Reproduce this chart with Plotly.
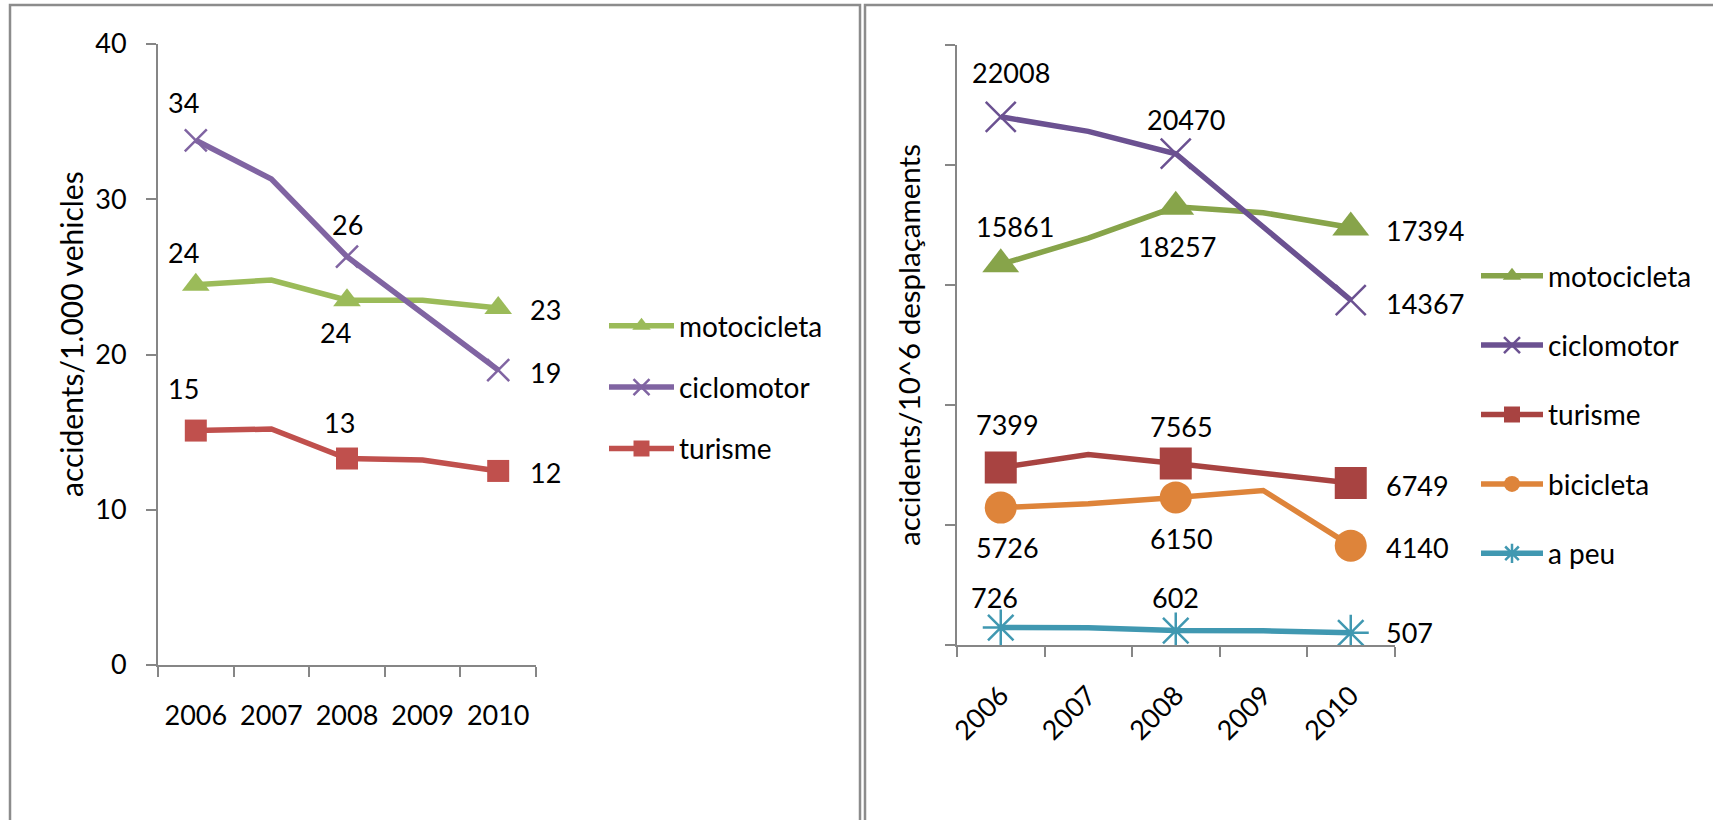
import plotly.graph_objects as go

W, H = 1713, 820

years = ["2006", "2007", "2008", "2009", "2010"]

# Left chart: accidents per 1.000 vehicles
left_moto = [24.5, 24.8, 23.5, 23.5, 23.0]
left_ciclo = [33.8, 31.3, 26.3, 22.7, 19.0]
left_turisme = [15.1, 15.2, 13.3, 13.2, 12.5]
left_labels_moto = ["24", "", "24", "", "23"]
left_labels_ciclo = ["34", "", "26", "", "19"]
left_labels_turisme = ["15", "", "13", "", "12"]

# Right chart: accidents per 10^6 desplaçaments
right_moto = [15861, 16950, 18257, 18010, 17394]
right_ciclo = [22008, 21400, 20470, 17400, 14367]
right_turisme = [7399, 7940, 7565, 7170, 6749]
right_bici = [5726, 5890, 6150, 6440, 4140]
right_apeu = [726, 720, 602, 590, 507]

# markers are only drawn on 2006, 2008 and 2010
marker_shown = [True, False, True, False, True]

FONT = "Lato"
GREY = "#868686"
LBL = 27


def px(x):
    return x / W


def py(y):
    return 1 - y / H


fig = go.Figure()

left_colors = {"motocicleta": "#9BBB59", "ciclomotor": "#8064A2", "turisme": "#C0504D"}
right_colors = {"motocicleta": "#87A44A", "ciclomotor": "#6B5191", "turisme": "#A84341",
                "bicicleta": "#DE843A", "a peu": "#4098B1"}

symbols = {"motocicleta": "triangle-up", "ciclomotor": "x-thin-open", "turisme": "square",
           "bicicleta": "circle", "a peu": "asterisk-open"}


def add_series(name, vals, color, xa, ya, legend, size, lw=5.5):
    sym = symbols[name]
    cols = [color if m else "rgba(0,0,0,0)" for m in marker_shown]
    marker = dict(symbol=sym, size=size, color=cols, opacity=1)
    if sym.endswith("open"):
        marker["line"] = dict(color=cols, width=2.5)
    else:
        marker["line"] = dict(width=0)
    fig.add_trace(go.Scatter(
        x=years, y=vals, name=name, mode="lines+markers",
        line=dict(color=color, width=lw), marker=marker,
        xaxis=xa, yaxis=ya, legend=legend, legendgroup=legend + name,
        hoverinfo="skip"))


add_series("motocicleta", left_moto, left_colors["motocicleta"], "x", "y", "legend", 24)
add_series("ciclomotor", left_ciclo, left_colors["ciclomotor"], "x", "y", "legend", 22)
add_series("turisme", left_turisme, left_colors["turisme"], "x", "y", "legend", 22)

add_series("motocicleta", right_moto, right_colors["motocicleta"], "x2", "y2", "legend2", 32)
add_series("ciclomotor", right_ciclo, right_colors["ciclomotor"], "x2", "y2", "legend2", 30)
add_series("turisme", right_turisme, right_colors["turisme"], "x2", "y2", "legend2", 32)
add_series("bicicleta", right_bici, right_colors["bicicleta"], "x2", "y2", "legend2", 32)
add_series("a peu", right_apeu, right_colors["a peu"], "x2", "y2", "legend2", 30)

annotations = []


def label(xa, ya, year_idx, val, text, dx, dy, anchor="center"):
    # category axes: annotation x given as category serial number
    annotations.append(dict(
        x=year_idx, y=val, xref=xa, yref=ya, text=text, showarrow=False,
        xshift=dx, yshift=dy, xanchor=anchor, yanchor="middle",
        font=dict(family=FONT, size=LBL, color="black")))


# left chart labels
label("x", "y", 0, left_ciclo[0], left_labels_ciclo[0], -12, 38)
label("x", "y", 2, left_ciclo[2], left_labels_ciclo[2], 0, 32)
label("x", "y", 4, left_ciclo[4], left_labels_ciclo[4], 30, -2, "left")
label("x", "y", 0, left_moto[0], left_labels_moto[0], -12, 32)
label("x", "y", 2, left_moto[2], left_labels_moto[2], -12, -32)
label("x", "y", 4, left_moto[4], left_labels_moto[4], 30, -2, "left")
label("x", "y", 0, left_turisme[0], left_labels_turisme[0], -12, 42)
label("x", "y", 2, left_turisme[2], left_labels_turisme[2], -8, 36)
label("x", "y", 4, left_turisme[4], left_labels_turisme[4], 30, -2, "left")

# right chart labels
label("x2", "y2", 0, right_ciclo[0], str(right_ciclo[0]), 10, 44)
label("x2", "y2", 2, right_ciclo[2], str(right_ciclo[2]), 10, 34)
label("x2", "y2", 4, right_ciclo[4], str(right_ciclo[4]), 33, -3, "left")
label("x2", "y2", 0, right_moto[0], str(right_moto[0]), 14, 38)
label("x2", "y2", 2, right_moto[2], str(right_moto[2]), 1, -40)
label("x2", "y2", 4, right_moto[4], str(right_moto[4]), 33, -3, "left")
label("x2", "y2", 0, right_turisme[0], str(right_turisme[0]), 7, 43)
label("x2", "y2", 2, right_turisme[2], str(right_turisme[2]), 6, 37)
label("x2", "y2", 4, right_turisme[4], str(right_turisme[4]), 33, -2, "left")
label("x2", "y2", 0, right_bici[0], str(right_bici[0]), 7, -40)
label("x2", "y2", 2, right_bici[2], str(right_bici[2]), 6, -41)
label("x2", "y2", 4, right_bici[4], str(right_bici[4]), 33, -2, "left")
label("x2", "y2", 0, right_apeu[0], str(right_apeu[0]), -6, 30)
label("x2", "y2", 2, right_apeu[2], str(right_apeu[2]), 0, 33)
label("x2", "y2", 4, right_apeu[4], str(right_apeu[4]), 33, 0, "left")

# axis titles
annotations.append(dict(x=px(71), y=py(334), xref="paper", yref="paper",
                        xanchor="center", yanchor="middle",
                        text="accidents/1.000 vehicles", textangle=-90, showarrow=False,
                        font=dict(family=FONT, size=30, color="black")))
annotations.append(dict(x=px(909), y=py(345), xref="paper", yref="paper",
                        xanchor="center", yanchor="middle",
                        text="accidents/10^6 desplaçaments", textangle=-90, showarrow=False,
                        font=dict(family=FONT, size=29.5, color="black")))

shapes = [
    dict(type="rect", xref="paper", yref="paper", x0=px(10), x1=px(860), y0=py(835), y1=py(5),
         line=dict(color="#8C8C8C", width=2.5)),
    dict(type="rect", xref="paper", yref="paper", x0=px(865), x1=px(1725), y0=py(835), y1=py(5),
         line=dict(color="#8C8C8C", width=2.5)),
]

axis_common = dict(showline=True, linecolor=GREY, linewidth=2, ticks="outside",
                   tickcolor=GREY, tickwidth=2, ticklen=10, showgrid=False, zeroline=False,
                   automargin=False,
                   tickfont=dict(family=FONT, size=LBL, color="black"))

fig.update_layout(
    template="none",
    width=W, height=H, margin=dict(l=0, r=0, t=0, b=0, pad=0, autoexpand=False),
    paper_bgcolor="white", plot_bgcolor="white",
    font=dict(family=FONT, size=LBL, color="black"),
    showlegend=True,
    xaxis=dict(domain=[px(158), px(536)], anchor="y", type="category", range=[-0.5, 4.5],
               tickson="boundaries", ticklabelstandoff=26, tickangle=0, **axis_common),
    yaxis=dict(domain=[py(665), py(44)], anchor="x", range=[0, 40], dtick=10,
               ticklabelstandoff=14, **axis_common),
    xaxis2=dict(domain=[px(957), px(1394.5)], anchor="y2", type="category", range=[-0.5, 4.5],
                tickson="boundaries", tickangle=-45, ticklabelstandoff=22, **axis_common),
    yaxis2=dict(domain=[py(645), py(45)], anchor="x2", range=[0, 25000], dtick=5000,
                showticklabels=False, **axis_common),
    legend=dict(x=px(604), y=py(301), xanchor="left", yanchor="top",
                font=dict(family=FONT, size=28, color="black"), itemwidth=65,
                traceorder="grouped", tracegroupgap=22, bgcolor="rgba(0,0,0,0)"),
    legend2=dict(x=px(1476), y=py(251), xanchor="left", yanchor="top",
                 font=dict(family=FONT, size=28, color="black"), itemwidth=62,
                 traceorder="grouped", tracegroupgap=30, bgcolor="rgba(0,0,0,0)"),
    annotations=annotations,
    shapes=shapes,
)

fig.write_html("out.html", config={"displayModeBar": False},
               post_script="document.body.style.margin='0';document.body.style.overflow='hidden';")
